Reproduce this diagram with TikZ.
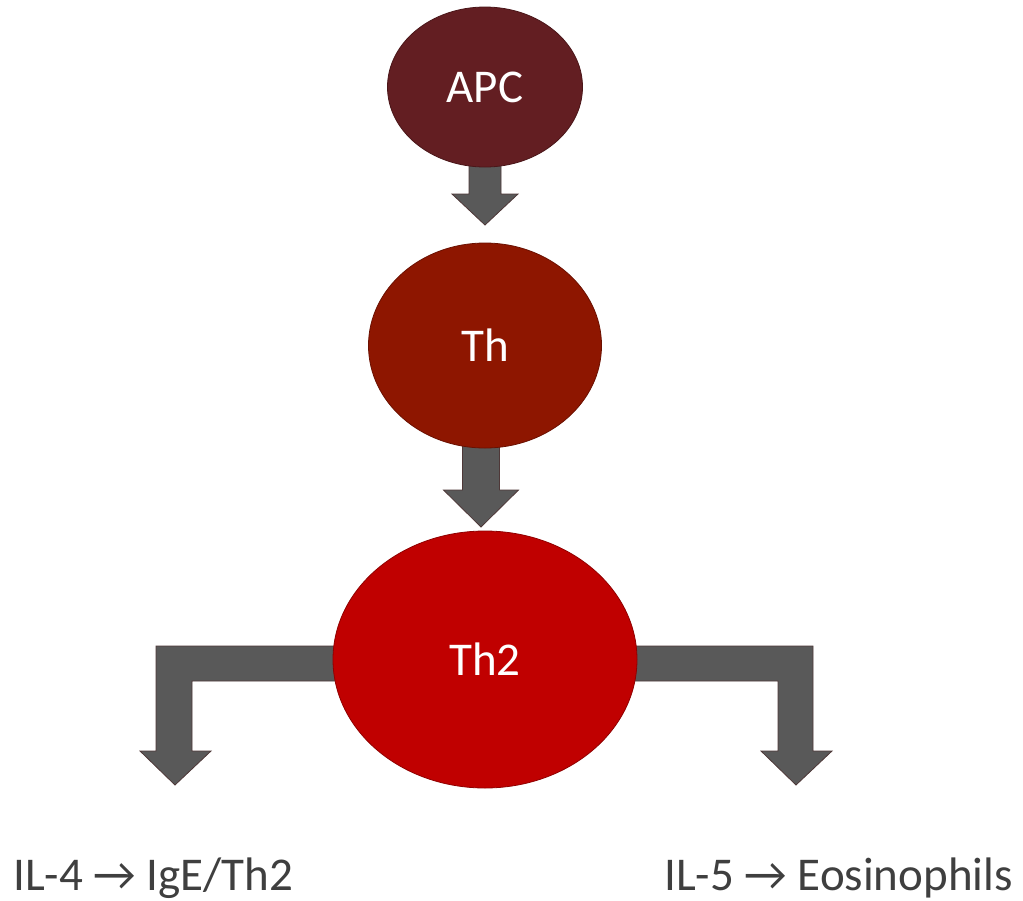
\documentclass[tikz,border=0pt]{standalone}
\usepackage{fontspec}
\setmainfont{Carlito}
\usetikzlibrary{shapes.geometric,calc}
\pgfdeclarelayer{background}
\pgfsetlayers{background,main}
\definecolor{apccol}{HTML}{631E22}
\definecolor{thcol}{HTML}{8E1600}
\definecolor{thtwocol}{HTML}{C00000}
\definecolor{arrowgray}{HTML}{595959}
\definecolor{arrowedge}{HTML}{4E3838}
\definecolor{labelgray}{HTML}{3F3F3F}
\begin{document}
\begin{tikzpicture}[x=1pt,y=-1pt,
  cell/.style={ellipse, draw=#1!75!black, line width=0.8pt, fill=#1, text=white,
    inner sep=0pt, font=\fontsize{47}{56}\selectfont},
  fatarrow/.style={fill=arrowgray, draw=arrowedge, line width=0.8pt, line join=miter},
  lbl/.style={inner sep=0pt, text=labelgray, font=\fontsize{47}{56}\selectfont}]
\useasboundingbox (0,0) rectangle (1023,900);

% cells
\node[cell=apccol, minimum width=195pt, minimum height=160pt] (apc) at (485,87) {APC};
\node[cell=thcol, minimum width=233pt, minimum height=205pt] (th) at (485,345.5) {Th};
\node[cell=thtwocol, minimum width=304pt, minimum height=257pt] (th2) at (485,659.5) {Th2};

% labels
\node[lbl, anchor=base west] (il4) at (13,890) {IL-4 → IgE/Th2};
\node[lbl, anchor=base east] (il5) at (1013,890) {IL-5 → Eosinophils};

% arrow tips and bends
\coordinate (a1s) at ($(apc.south)+(0,-8)$);
\coordinate (a1t) at (485,225);
\coordinate (a2s) at (481,440);
\coordinate (a2t) at (481,527);
\coordinate (lt) at (175,785);
\coordinate (rt) at (796,785);

\begin{pgfonlayer}{background}
\fill[white] (0,0) rectangle (1023,900);
\draw[fatarrow] ($(a1s)+(-16,0)$) -- ($(a1t)+(-16,-31)$) -- ($(a1t)+(-33,-31)$) -- (a1t)
  -- ($(a1t)+(33,-31)$) -- ($(a1t)+(16,-31)$) -- ($(a1s)+(16,0)$) -- cycle;
\draw[fatarrow] ($(a2s)+(-18.5,0)$) -- ($(a2t)+(-18.5,-37)$) -- ($(a2t)+(-37.5,-37)$) -- (a2t)
  -- ($(a2t)+(37.5,-37)$) -- ($(a2t)+(18.5,-37)$) -- ($(a2s)+(18.5,0)$) -- cycle;
\draw[fatarrow] ($(th2.center)+(-80,-13.5)$) -- (156,646) -- (156,751) -- (140,751) -- (lt)
  -- (211,751) -- (192,751) -- (192,681) -- ($(th2.center)+(-80,21.5)$) -- cycle;
\draw[fatarrow] ($(th2.center)+(80,-13.5)$) -- (813,646) -- (813,751) -- (832,751) -- (rt)
  -- (761,751) -- (778,751) -- (778,681) -- ($(th2.center)+(80,21.5)$) -- cycle;
\end{pgfonlayer}
\end{tikzpicture}
\end{document}
